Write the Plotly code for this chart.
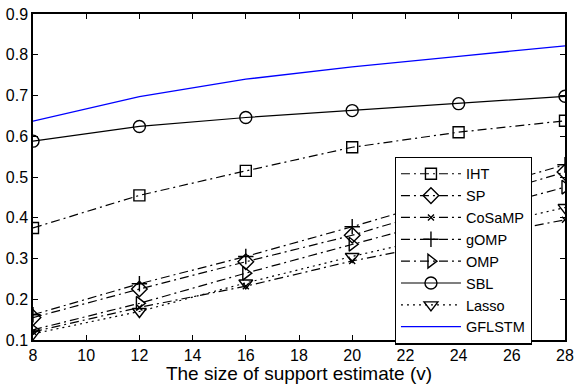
import plotly.graph_objects as go

# support estimate size
v = [8, 12, 16, 20, 24, 28]

iht = [0.375, 0.455, 0.515, 0.573, 0.610, 0.638]
sp = [0.155, 0.225, 0.292, 0.357, 0.435, 0.512]
cosamp = [0.120, 0.180, 0.232, 0.294, 0.345, 0.395]
gomp = [0.162, 0.238, 0.305, 0.378, 0.455, 0.530]
omp = [0.125, 0.190, 0.264, 0.335, 0.405, 0.475]
sbl = [0.588, 0.624, 0.646, 0.663, 0.680, 0.698]
lasso = [0.115, 0.170, 0.240, 0.305, 0.365, 0.425]
gflstm = [0.637, 0.697, 0.740, 0.770, 0.796, 0.822]

xticks = [8, 10, 12, 14, 16, 18, 20, 22, 24, 26, 28]
yticks = [0.1, 0.2, 0.3, 0.4, 0.5, 0.6, 0.7, 0.8, 0.9]

dd = "9px,4px,2px,4px"
fig = go.Figure()

def add(name, y, sym, dash, size=10):
    fig.add_scatter(x=v, y=y, name=name, mode="lines+markers",
                    line=dict(color="black", width=1.2, dash=dash),
                    marker=dict(symbol=sym, size=size, color="black",
                                line=dict(color="black", width=1.4)))

add("IHT", iht, "square-open", dd, 11)
add("SP", sp, "diamond-open", dd, 12)
add("CoSaMP", cosamp, "x-thin-open", dd, 6)
add("gOMP", gomp, "cross-thin-open", dd, 11)
add("OMP", omp, "triangle-right-open", dd, 12)
add("SBL", sbl, "circle-open", "solid", 12)
add("Lasso", lasso, "triangle-down-open", "2px,4px", 12)
fig.add_scatter(x=v, y=gflstm, name="GFLSTM", mode="lines",
                line=dict(color="#0000ff", width=1.3))

fig.update_layout(
    width=580, height=384,
    margin=dict(l=28, r=12, t=6, b=42),
    plot_bgcolor="white", paper_bgcolor="white",
    font=dict(family="Liberation Sans, Arial", size=16, color="black"),
    legend=dict(x=0.68, y=0.5625, xanchor="left", yanchor="top",
                bgcolor="white", bordercolor="black", borderwidth=1.2,
                font=dict(size=14.5), itemwidth=60, tracegroupgap=0),
    showlegend=True,
)
fig.update_xaxes(range=[8, 28], tickvals=xticks,
                 ticks="inside", ticklen=5, tickcolor="black",
                 showline=True, linecolor="black", linewidth=1.5, mirror="allticks",
                 showgrid=False, zeroline=False,
                 title=dict(text="The size of support estimate (v)", standoff=1))
fig.update_yaxes(range=[0.1, 0.9], tickvals=yticks, tickformat=".1f",
                 ticklabeloverflow="allow",
                 ticks="inside", ticklen=5, tickcolor="black",
                 showline=True, linecolor="black", linewidth=1.5, mirror="allticks",
                 showgrid=False, zeroline=False)

fig.write_html("out.html", config={"displayModeBar": False},
               post_script="document.body.style.margin='0';")
